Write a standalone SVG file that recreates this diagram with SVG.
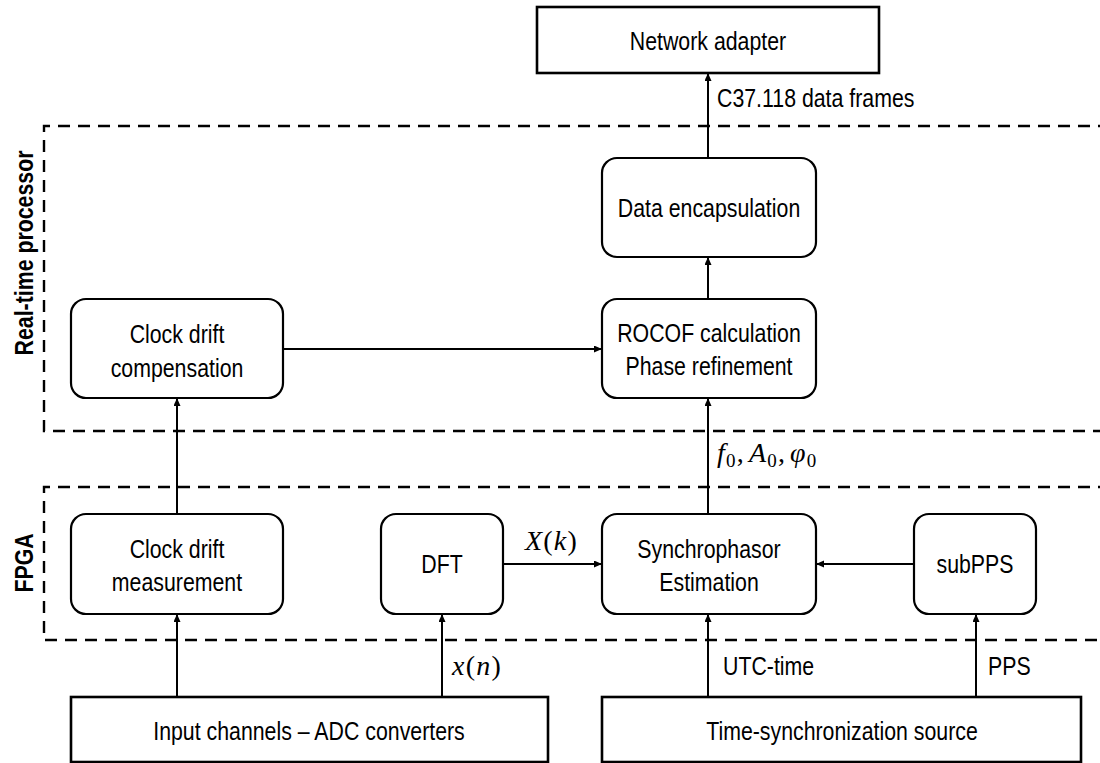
<svg xmlns="http://www.w3.org/2000/svg" width="1100" height="763" viewBox="0 0 1100 763">
<defs>
<marker id="arr" markerUnits="userSpaceOnUse" markerWidth="9" markerHeight="8" refX="8" refY="3.5" orient="auto">
<path d="M0,0 L8,3.5 L0,7 z" fill="#000"/>
</marker>
<style>
.t{font-family:"Liberation Sans",Arial,sans-serif;font-size:26px;fill:#000;text-anchor:middle}
.l{font-family:"Liberation Sans",Arial,sans-serif;font-size:26px;fill:#000}
.b{font-family:"Liberation Sans",Arial,sans-serif;font-size:26px;font-weight:bold;fill:#000;text-anchor:middle}
.m{font-family:"Liberation Serif","DejaVu Serif",serif;font-size:28px;fill:#000;letter-spacing:1.2px}
.mi{font-style:italic}
.rr{fill:#fff;stroke:#000;stroke-width:2.2}
.sq{fill:#fff;stroke:#000;stroke-width:2.6}
.dash{fill:none;stroke:#000;stroke-width:2.4;stroke-dasharray:12 8}
.c{fill:none;stroke:#000;stroke-width:2;marker-end:url(#arr)}
</style>
</defs>
<rect width="1100" height="763" fill="#fff"/>
<g id="regions">
<path class="dash" d="M1110,126 H44 V431 H1110"/>
<path class="dash" d="M1110,487 H44 V640 H1110"/>
<text class="b" transform="translate(33,253) rotate(-90) scale(0.82,1)">Real-time processor</text>
<text class="b" transform="translate(33,563) rotate(-90) scale(0.82,1)">FPGA</text>
</g>
<g id="connectors">
<line class="c" x1="283" y1="349" x2="602" y2="349"/>
<line class="c" x1="177" y1="514" x2="177" y2="398"/>
<line class="c" x1="177" y1="697" x2="177" y2="614"/>
<line class="c" x1="442" y1="697" x2="442" y2="614"/>
<line class="c" x1="503" y1="564" x2="602" y2="564"/>
<line class="c" x1="914" y1="564" x2="816" y2="564"/>
<line class="c" x1="708" y1="697" x2="708" y2="614"/>
<line class="c" x1="976" y1="697" x2="976" y2="614"/>
<line class="c" x1="708" y1="514" x2="708" y2="398"/>
<line class="c" x1="708" y1="299" x2="708" y2="257"/>
<line class="c" x1="708" y1="158" x2="708" y2="73"/>
<text class="l" transform="translate(717,107) scale(0.82,1)">C37.118 data frames</text>
<text class="m" x="717" y="462" letter-spacing="0"><tspan class="mi">f</tspan><tspan font-size="19" dy="5">0</tspan><tspan dy="-5">,</tspan><tspan class="mi" dx="4">A</tspan><tspan font-size="19" dy="5">0</tspan><tspan dy="-5">,</tspan><tspan class="mi" dx="4">φ</tspan><tspan font-size="19" dy="5">0</tspan></text>
<text class="m" x="525" y="550"><tspan class="mi">X</tspan>(<tspan class="mi">k</tspan>)</text>
<text class="m" x="452" y="675"><tspan class="mi">x</tspan>(<tspan class="mi">n</tspan>)</text>
<text class="l" transform="translate(723,675) scale(0.82,1)">UTC-time</text>
<text class="l" transform="translate(988,675) scale(0.82,1)">PPS</text>
</g>
<g id="network-adapter">
<rect class="sq" x="537" y="7" width="342" height="66"/>
<text class="t" transform="translate(708,50) scale(0.82,1)">Network adapter</text>
</g>
<g id="data-encapsulation">
<rect class="rr" x="602" y="158" width="214" height="99" rx="15"/>
<text class="t" transform="translate(709,217) scale(0.82,1)">Data encapsulation</text>
</g>
<g id="rocof">
<rect class="rr" x="602" y="299" width="214" height="99" rx="15"/>
<text class="t" transform="translate(709,342) scale(0.82,1)">ROCOF calculation</text>
<text class="t" transform="translate(709,375) scale(0.82,1)">Phase refinement</text>
</g>
<g id="clock-drift-compensation">
<rect class="rr" x="71" y="299" width="212" height="99" rx="15"/>
<text class="t" transform="translate(177,343) scale(0.82,1)">Clock drift</text>
<text class="t" transform="translate(177,377) scale(0.82,1)">compensation</text>
</g>
<g id="clock-drift-measurement">
<rect class="rr" x="71" y="514" width="212" height="100" rx="15"/>
<text class="t" transform="translate(177,558) scale(0.82,1)">Clock drift</text>
<text class="t" transform="translate(177,591) scale(0.82,1)">measurement</text>
</g>
<g id="dft">
<rect class="rr" x="381" y="514" width="122" height="100" rx="15"/>
<text class="t" transform="translate(442,573) scale(0.82,1)">DFT</text>
</g>
<g id="synchrophasor-estimation">
<rect class="rr" x="602" y="514" width="214" height="100" rx="15"/>
<text class="t" transform="translate(709,558) scale(0.82,1)">Synchrophasor</text>
<text class="t" transform="translate(709,591) scale(0.82,1)">Estimation</text>
</g>
<g id="subpps">
<rect class="rr" x="914" y="514" width="122" height="100" rx="15"/>
<text class="t" transform="translate(975,573) scale(0.82,1)">subPPS</text>
</g>
<g id="input-channels">
<rect class="sq" x="71" y="697" width="477" height="65"/>
<text class="t" transform="translate(309,740) scale(0.82,1)">Input channels – ADC converters</text>
</g>
<g id="time-sync-source">
<rect class="sq" x="602" y="697" width="479" height="65"/>
<text class="t" transform="translate(842,740) scale(0.82,1)">Time-synchronization source</text>
</g>
</svg>
